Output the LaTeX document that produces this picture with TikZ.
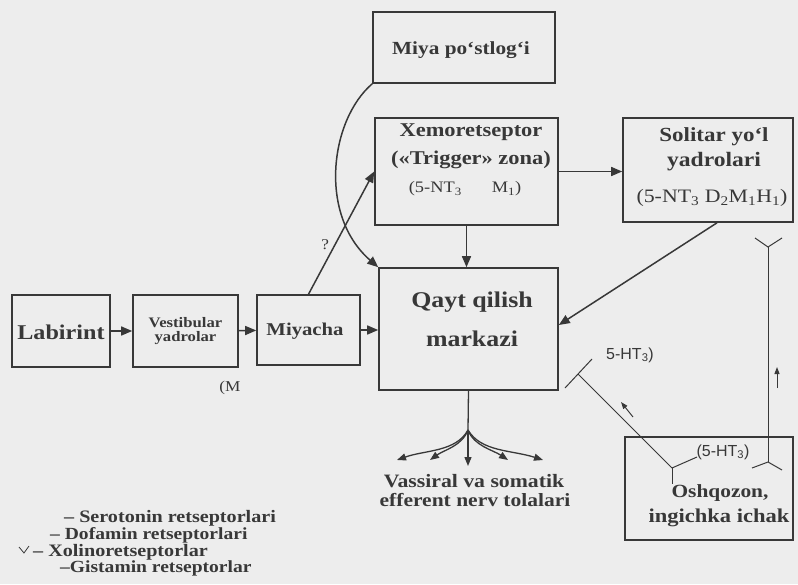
\documentclass[tikz,border=0pt]{standalone}
\usepackage{fontspec}
\setmainfont[FakeStretch=1.15]{Liberation Serif}
\setsansfont{Liberation Sans}
\usetikzlibrary{arrows.meta}
\definecolor{ink}{HTML}{383838}
\definecolor{paper}{HTML}{EDEDED}
\newcommand{\fs}[1]{\fontsize{#1}{#1}\selectfont}
\begin{document}
\begin{tikzpicture}[x=1pt,y=-1pt,
  box/.style={draw=ink, line width=1.6pt, inner sep=0pt},
  lbl/.style={text=ink, inner sep=0pt, align=center, font=\bfseries\fs{18}},
  sub/.style={text=ink, inner sep=0pt, font=\fs{15}},
  hand/.style={text=ink, inner sep=0pt, font=\sffamily\fs{16}},
  arr/.style={draw=ink, line width=1.5pt, -{Triangle[length=11pt,width=9pt]}},
  sarr/.style={draw=ink, line width=1.3pt, -{Triangle[length=9pt,width=7pt]}},
  ln/.style={draw=ink, line width=1.3pt},
  thinln/.style={draw=ink, line width=1pt}]
\fill[paper] (0,0) rectangle (798,584);
\useasboundingbox (0,0) rectangle (798,584);

% boxes
\node[box, minimum width=182pt, minimum height=71pt] (mp) at (464,47.5) {};
\node[lbl, font=\bfseries\fs{18.5}] (mpt) at (461,50) {Miya po‘stlog‘i};

\node[box, minimum width=183pt, minimum height=107pt] (xr) at (466.5,171.5) {};
\node[lbl, font=\bfseries\fs{19.5}] (xr1) at (471,132) {Xemoretseptor};
\node[lbl, font=\bfseries\fs{19.5}] (xr2) at (471,160) {(«Trigger» zona)};
\node[sub, font=\fs{16}] (xr3) at (465,189) {(5-NT\textsubscript{3}\hspace{30pt}M\textsubscript{1})};

\node[box, minimum width=170pt, minimum height=104pt] (sol) at (708,170) {};
\node[lbl, font=\bfseries\fs{20}] (sol1) at (714,137) {Solitar yo‘l};
\node[lbl, font=\bfseries\fs{20.5}] (sol2) at (714,162) {yadrolari};
\node[sub, font=\fs{19}] (sol3) at (712,198) {(5-NT\textsubscript{3} D\textsubscript{2}M\textsubscript{1}H\textsubscript{1})};

\node[box, minimum width=98pt, minimum height=72pt] (lab) at (61,331) {};
\node[lbl, font=\bfseries\fs{21}] (labt) at (61,332) {Labirint};

\node[box, minimum width=105pt, minimum height=72pt] (ves) at (185.5,331) {};
\node[lbl, font=\bfseries\fs{14.5}] (vest) at (185.5,331) {Vestibular\\[-1pt]yadrolar};

\node[box, minimum width=103pt, minimum height=70pt] (miy) at (308.5,330) {};
\node[lbl, font=\bfseries\fs{18}] (miyt) at (305,331) {Miyacha};

\node[box, minimum width=179pt, minimum height=122pt] (qm) at (468.5,329) {};
\node[lbl, font=\bfseries\fs{22.5}] (qm1) at (472,302) {Qayt qilish};
\node[lbl, font=\bfseries\fs{22.5}] (qm2) at (472,339) {markazi};

\node[box, minimum width=168pt, minimum height=103pt] (osh) at (709,488.5) {};
\node[lbl, font=\bfseries\fs{18.6}] (osh1) at (720,493) {Oshqozon,};
\node[lbl, font=\bfseries\fs{19.6}] (osh2) at (719,518) {ingichka ichak};

% simple arrows
\draw[arr] (lab) -- (ves);
\draw[arr] (ves) -- (miy);
\draw[arr] (miy.east) -- (miy.east -| qm.west);
\draw[arr] (xr.east) -- (xr.east -| sol.west);
\draw[arr] (xr.south) -- (xr.south |- qm.north);
\draw[arr] ([xshift=9pt]sol.south) -- ([yshift=4pt]qm.east);
\draw[arr] (miy.north) -- node[pos=0.4, left=5pt, sub, font=\fs{15}] (q) {?} (xr.west);
\draw[arr] (mp.south west) .. controls (330,120) and (318,215) .. (qm.north west);

\node[sub, font=\fs{15}] (mlab) at (230,388) {(M};

% efferent fan
\coordinate (fan) at (468,430);
\coordinate (t1) at (397,460);
\coordinate (t2) at (430,460);
\coordinate (t3) at (468,466);
\coordinate (t4) at (508,460);
\coordinate (t5) at (543,460);
\draw[ln] (qm.south) -- (fan);
\draw[sarr] (fan) .. controls (456,452) and (425,450) .. (t1);
\draw[sarr] (fan) .. controls (462,446) and (444,450) .. (t2);
\draw[sarr] (fan) -- (t3);
\draw[sarr] (fan) .. controls (474,446) and (493,450) .. (t4);
\draw[sarr] (fan) .. controls (481,452) and (512,450) .. (t5);
\node[lbl, font=\bfseries\fs{18.9}] (ef1) at (474,481) {Vassiral va somatik};
\node[lbl, font=\bfseries\fs{18.7}] (ef2) at (475,500) {efferent nerv tolalari};

% 5-HT3 pathway from gut to centre
\coordinate (rq) at (578,374);
\coordinate (ro) at (672,468);
\coordinate (b1) at (565,388);
\coordinate (b2) at (592,359);
\coordinate (ra) at (697,457);
\coordinate (rs) at (672,484);
\draw[thinln] (ro) -- (rq);
\draw[thinln] (b1) -- (b2);
\draw[thinln] (ro) -- (ra);
\draw[thinln] (ro) -- (rs);
\coordinate (sa1) at (633,417);
\coordinate (sa2) at (621,402);
\draw[thinln, -{Triangle[length=7pt,width=5pt]}] (sa1) -- (sa2);
\node[hand] (ht3a) at (630,355) {5-HT\textsubscript{3})};
\node[hand] (ht3b) at (723,452) {(5-HT\textsubscript{3})};

% vagal afferent path up the right
\coordinate (vt) at (768,247);
\coordinate (vb) at (768,462);
\coordinate (va1) at (755,238);
\coordinate (va2) at (782,238);
\coordinate (vb1) at (752,468);
\coordinate (vb2) at (782,470);
\draw[thinln] (vb) -- (vt);
\draw[thinln] (va1) -- (vt) -- (va2);
\draw[thinln] (vb1) -- (vb) -- (vb2);
\coordinate (ua1) at (777,388);
\coordinate (ua2) at (777,367);
\draw[thinln, -{Triangle[length=7pt,width=5pt]}] (ua1) -- (ua2);

% legend
\node[lbl, anchor=west, font=\bfseries\fs{17.5}] (lg1) at (64,518) {– Serotonin retseptorlari};
\node[lbl, anchor=west, font=\bfseries\fs{17}] (lg2) at (50,535) {– Dofamin retseptorlari};
\node[lbl, anchor=west, font=\bfseries\fs{17.5}] (lg3) at (33,552) {– Xolinoretseptorlar};
\node[lbl, anchor=west, font=\bfseries\fs{17}] (lg4) at (60,568) {–Gistamin retseptorlar};
\coordinate (ly) at (24,553);
\draw[ink, line width=0.8pt] (19,547) -- (ly) -- (29,546);
\end{tikzpicture}
\end{document}
